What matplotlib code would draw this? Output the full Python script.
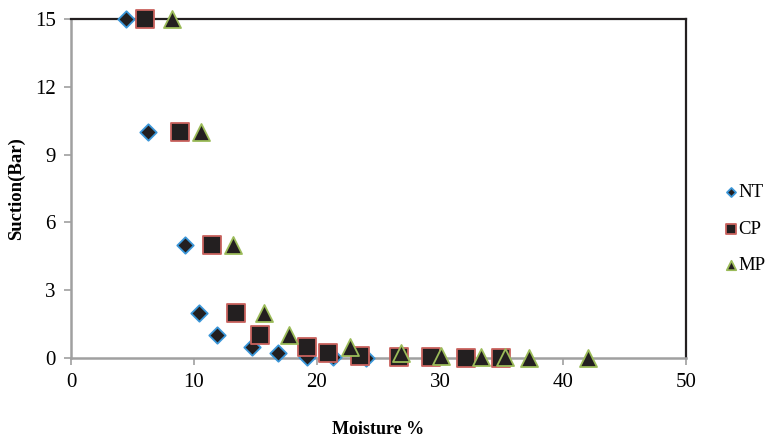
import matplotlib
matplotlib.use("Agg")
import matplotlib.pyplot as plt

plt.rcParams['font.family'] = ['Liberation Serif', 'DejaVu Serif']

# moisture % and suction (bar)
nt_x = [4.5, 6.3, 9.3, 10.4, 11.9, 14.7, 16.8, 19.2, 21.3, 24.0]
nt_y = [15, 10, 5, 2, 1, 0.5, 0.2, 0.05, 0.02, 0.01]
cp_x = [6.0, 8.9, 11.5, 13.4, 15.4, 19.2, 20.9, 23.5, 26.7, 29.3, 32.1, 35.0]
cp_y = [15, 10, 5, 2, 1, 0.5, 0.2, 0.1, 0.05, 0.02, 0.01, 0.0]
mp_x = [8.2, 10.6, 13.2, 15.7, 17.7, 22.7, 26.8, 30.1, 33.3, 35.3, 37.2, 42.0]
mp_y = [15, 10, 5, 2, 1, 0.5, 0.2, 0.1, 0.05, 0.02, 0.01, 0.0]

xticks = [0, 10, 20, 30, 40, 50]
yticks = [0, 3, 6, 9, 12, 15]

fill = '#231f20'
fig = plt.figure(figsize=(7.69, 4.37), dpi=100)
ax = fig.add_axes([0.0923, 0.181, 0.7997, 0.7755])

ax.scatter(nt_x, nt_y, marker='D', s=70, c=fill, edgecolors='#3a96d8', linewidths=1.3, label='NT', zorder=3, clip_on=False)
ax.scatter(cp_x, cp_y, marker='s', s=150, c=fill, edgecolors='#c9625e', linewidths=1.3, label='CP', zorder=4, clip_on=False)
ax.scatter(mp_x, mp_y, marker='^', s=150, c=fill, edgecolors='#9bbb59', linewidths=1.3, label='MP', zorder=5, clip_on=False)

ax.set_xlim(0, 50)
ax.set_ylim(0, 15)
ax.set_xticks(xticks)
ax.set_yticks(yticks)
ax.tick_params(direction='out', length=5, width=1.2, color='#a0a0a0', labelsize=15, pad=6)

for s in ['left', 'bottom']:
    ax.spines[s].set_color('#a0a0a0')
    ax.spines[s].set_linewidth(1.8)
for s in ['top', 'right']:
    ax.spines[s].set_color(fill)
    ax.spines[s].set_linewidth(1.6)

ax.set_xlabel('Moisture %', fontsize=13, fontweight='bold', va='center')
ax.xaxis.set_label_coords(0.5, -0.21)
ax.set_ylabel('Suction(Bar)', fontsize=13.5, fontweight='bold', va='center')
ax.yaxis.set_label_coords(-0.089, 0.5)

leg = fig.legend(loc='center left', bbox_to_anchor=(0.942, 0.476), frameon=False,
                 fontsize=13.5, handletextpad=0.0, labelspacing=1.05, markerscale=0.55,
                 handlelength=0.75, borderpad=0, borderaxespad=0)

plt.savefig('out.png', dpi=100)
